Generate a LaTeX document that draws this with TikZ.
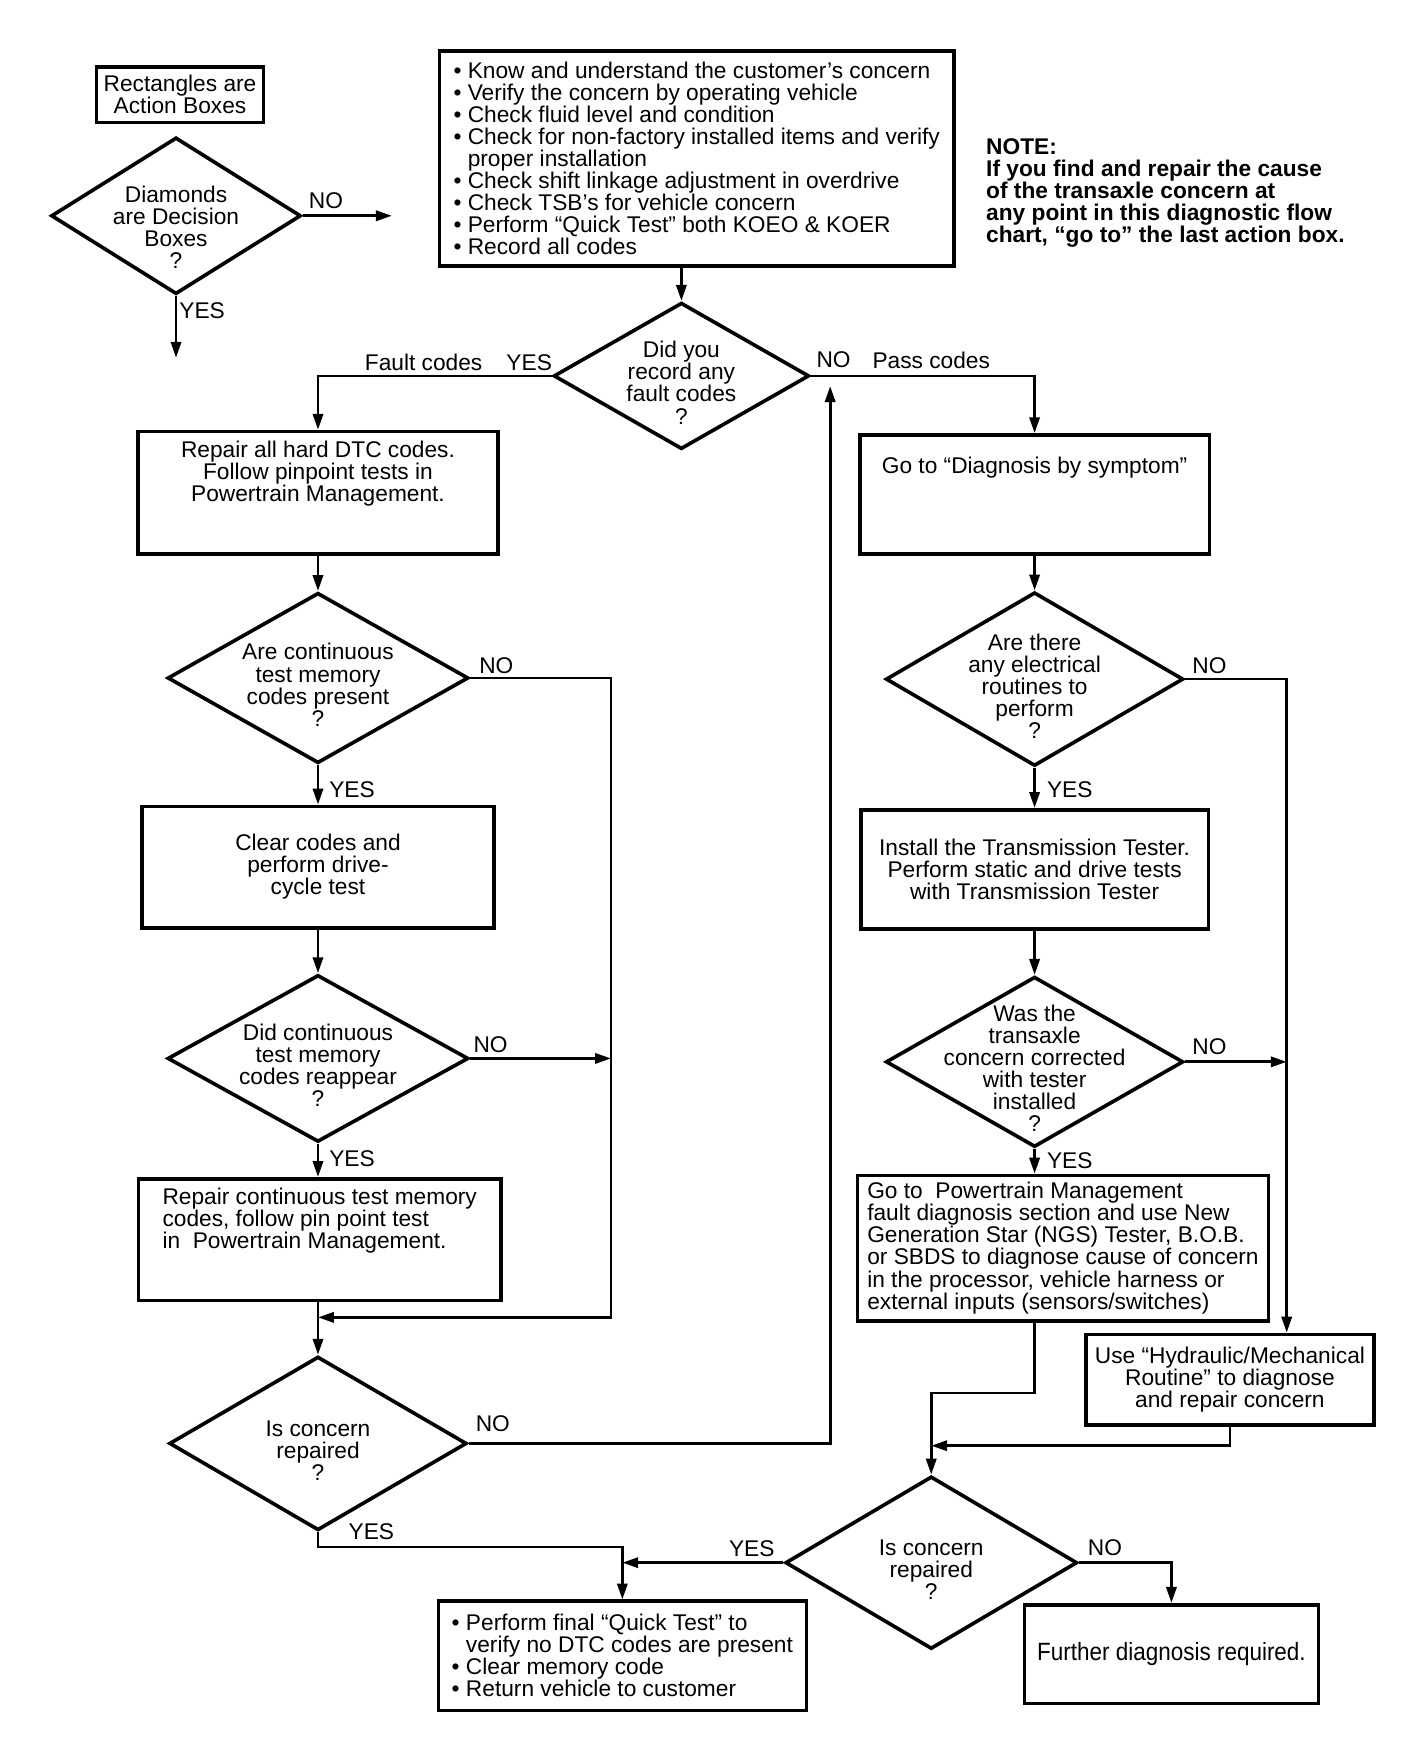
\documentclass[tikz,border=0pt]{standalone}
\usepackage{graphicx}
\usepackage{fontspec}
\setmainfont{Liberation Sans}
\usetikzlibrary{shapes.geometric,arrows.meta}

\tikzset{
  action/.style={draw, line width=1.6pt, inner sep=3pt, align=center,
    font=\fontsize{10}{9.7}\selectfont},
  decision/.style={draw, diamond, line width=1.6pt, inner sep=0pt,
    minimum width=131pt, minimum height=75pt},
  dtext/.style={align=center, yshift=-3pt, font=\fontsize{10}{9.7}\selectfont},
  flow/.style={line width=1.2pt, -{Triangle[length=7pt,width=4.5pt]}},
  tag/.style={font=\fontsize{10}{12}\selectfont, inner sep=0pt}
}
\newcommand{\bul}{\textbullet\ }
\newcommand{\bulpad}{\phantom{\textbullet\ }}

\begin{document}
\begin{tikzpicture}[x=0.5pt, y=-0.5pt]
\useasboundingbox (0,0) rectangle (1240,1548);
% legend
\node[action, minimum width=73.5pt, minimum height=24.5pt] (legR) at (158.5,83.5) {Rectangles are\\Action Boxes};
\node[decision, minimum width=110pt, minimum height=69pt,
  label={[dtext, yshift=-2pt]center:{Diamonds\\are Decision\\Boxes\\?}}] (legD) at (155,190) {};
\coordinate (legNo) at (345,190);
\coordinate (legYes) at (155,315);
\draw[flow] (legD.east) -- (legNo);
\draw[flow] (legD.south) -- (legYes);
\node[tag] (legNoT) at (287,177) {NO};
\node[tag] (legYesT) at (178,274) {YES};

% first checks
\node[action, align=left, minimum width=226.5pt, minimum height=94.5pt] (check) at (613.5,139.5) {\bul Know and understand the customer's concern\\
\bul Verify the concern by operating vehicle\\
\bul Check fluid level and condition\\
\bul Check for non-factory installed items and verify\\
\bulpad proper installation\\
\bul Check shift linkage adjustment in overdrive\\
\bul Check TSB's for vehicle concern\\
\bul Perform ``Quick Test'' both KOEO \& KOER\\
\bul Record all codes};
\node[anchor=west, align=left, inner sep=0pt, font=\bfseries\fontsize{10}{9.75}\selectfont] (note) at (868,170) {NOTE:\\
If you find and repair the cause\\
of the transaxle concern at\\
any point in this diagnostic flow\\
chart, ``go to'' the last action box.};

\node[decision, minimum width=112.5pt, minimum height=64.5pt,
  label={[dtext]center:{Did you\\record any\\fault codes\\?}}] (anycodes) at (600,331) {};
\draw[flow] (check.south -| anycodes.north) -- (anycodes.north);
\node[tag] (faultT) at (373,319) {Fault codes};
\node[tag] (anyYesT) at (466,319) {YES};
\node[tag] (anyNoT) at (734,317) {NO};
\node[tag] (passT) at (820,317) {Pass codes};

% left column
\node[action, minimum width=158.5pt, minimum height=54pt] (repairhard) at (280,434) {Repair all hard DTC codes.\\Follow pinpoint tests in\\Powertrain Management.\\\rule{0pt}{16pt}};
\node[decision, minimum width=132.5pt,
  label={[dtext]center:{Are continuous\\test memory\\codes present\\?}}] (contmem) at (280,597) {};
\node[action, minimum width=155pt, minimum height=53.5pt] (clearcodes) at (280,763.5) {Clear codes and\\perform drive-\\cycle test};
\node[decision, minimum width=132.5pt, minimum height=73.5pt,
  label={[dtext]center:{Did continuous\\test memory\\codes reappear\\?}}] (reappear) at (280,932) {};
\node[action, align=left, minimum width=159.5pt, minimum height=53.5pt] (repaircont) at (281.5,1091.5) {Repair continuous test memory\\codes, follow pin point test\\in\ \ Powertrain Management.\\\rule{0pt}{16pt}};
\node[decision, minimum height=76.5pt,
  label={[dtext]center:{Is concern\\repaired\\?}}] (fixed1) at (280,1271) {};

\draw[flow] (anycodes.west) -| (repairhard.north);
\draw[flow] (repairhard.south) -- (contmem.north);
\draw[flow] (contmem.south) -- (clearcodes.north);
\draw[flow] (clearcodes.south) -- (reappear.north);
\draw[flow] (reappear.south) -- (reappear.south |- repaircont.north);
\draw[flow] (repaircont.south -| fixed1.north) -- (fixed1.north);
\coordinate (railL) at (538,1160);
\coordinate (mergeL) at (280,1160);
\draw[flow] (contmem.east) -| (railL) -- (mergeL);
\draw[flow] (reappear.east) -- (reappear.east -| railL);
\coordinate (backup) at (731,340);
\draw[flow] (fixed1.east) -| (backup);

\node[tag] (cmNoT) at (437,586) {NO};
\node[tag] (cmYesT) at (310,695) {YES};
\node[tag] (raNoT) at (432,920) {NO};
\node[tag] (raYesT) at (310,1020) {YES};
\node[tag] (f1NoT) at (434,1254) {NO};
\node[tag] (f1YesT) at (327,1349) {YES};

% right column
\node[action, minimum width=154pt, minimum height=52.5pt] (symptom) at (911,435.5) {Go to ``Diagnosis by symptom''\\\rule{0pt}{23pt}};
\node[decision, minimum height=76.5pt,
  label={[dtext]center:{Are there\\any electrical\\routines to\\perform\\?}}] (electric) at (911,598) {};
\node[action, minimum width=153pt, minimum height=52.5pt] (tester) at (911,765.5) {Install the Transmission Tester.\\Perform static and drive tests\\with Transmission Tester};
\node[decision,
  label={[dtext]center:{Was the\\transaxle\\concern corrected\\with tester\\installed\\?}}] (corrected) at (911,935) {};
\node[action, align=left, minimum width=181pt, minimum height=64pt] (ngs) at (936,1099) {Go to\ \ Powertrain Management\\
fault diagnosis section and use New\\
Generation Star (NGS) Tester, B.O.B.\\
or SBDS to diagnose cause of concern\\
in the processor, vehicle harness or\\
external inputs (sensors/switches)};
\node[action, minimum width=127pt, minimum height=40pt] (hydraulic) at (1083,1215) {Use ``Hydraulic/Mechanical\\Routine'' to diagnose\\and repair concern};
\node[decision, minimum width=128.5pt, minimum height=76pt,
  label={[dtext]center:{Is concern\\repaired\\?}}] (fixed2) at (820,1376) {};

\draw[flow] (anycodes.east) -| (symptom.north);
\draw[flow] (symptom.south) -- (electric.north);
\draw[flow] (electric.south) -- (tester.north);
\draw[flow] (tester.south) -- (corrected.north);
\draw[flow] (corrected.south) -- (corrected.south |- ngs.north);
\coordinate (railR) at (1133,936);
\draw[flow] (electric.east) -| (railR |- hydraulic.north);
\draw[flow] (corrected.east) -- (corrected.east -| railR);
\draw[flow] (ngs.south -| corrected.south) -- ++(0,62) -| (fixed2.north);
\coordinate (mergeR) at (820,1273);
\draw[flow] (hydraulic.south) |- (mergeR);

\node[tag] (elNoT) at (1065,586) {NO};
\node[tag] (elYesT) at (942,695) {YES};
\node[tag] (coNoT) at (1065,922) {NO};
\node[tag] (coYesT) at (942,1022) {YES};
\node[tag] (f2YesT) at (662,1364) {YES};
\node[tag] (f2NoT) at (973,1363) {NO};

% last boxes
\node[action, align=left, minimum width=162pt, minimum height=48pt] (final) at (548,1458) {\bul Perform final ``Quick Test'' to\\
\bulpad verify no DTC codes are present\\
\bul Clear memory code\\
\bul Return vehicle to customer};
\node[action, minimum width=129.5pt, minimum height=43.5pt] (further) at (1031.5,1456.5) {\scalebox{0.9}[1]{\fontsize{11}{13}\selectfont Further diagnosis required.}};

\draw[flow] (fixed1.south) -- ++(0,13) -| (final.north);
\draw[flow] (fixed2.west) -- (fixed2.west -| final.north);
\draw[flow] (fixed2.east) -| (further.north);
\end{tikzpicture}
\end{document}
